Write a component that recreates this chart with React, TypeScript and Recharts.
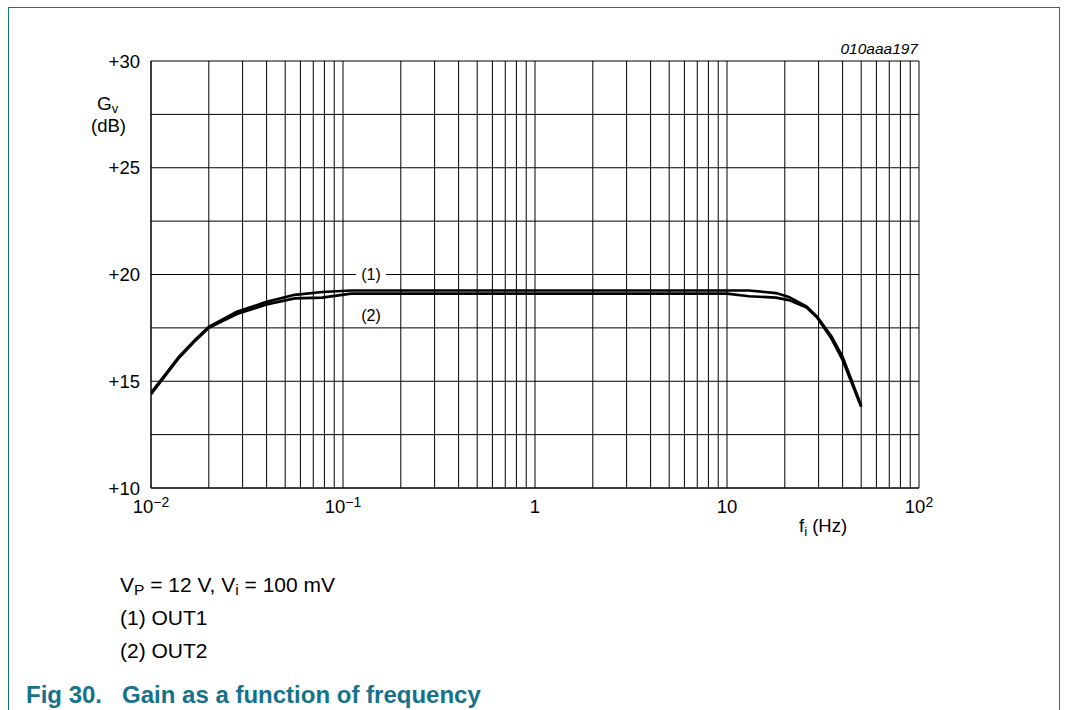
import React from 'react';
import { LineChart, Line, XAxis, YAxis, CartesianGrid, ReferenceDot } from 'recharts';

// ---- data ----
const freqHz = [0.01, 0.014, 0.017, 0.02, 0.028, 0.04, 0.056, 0.078, 0.11, 1, 10, 13, 18, 21, 26, 29.5, 35, 40, 50];
const gainOut1 = [14.45, 16.15, 16.95, 17.55, 18.25, 18.72, 19.05, 19.18, 19.25, 19.25, 19.25, 19.25, 19.13, 18.95, 18.5, 18.02, 17.1, 16.15, 13.85];
const gainOut2 = [14.4, 16.1, 16.9, 17.5, 18.15, 18.6, 18.88, 18.92, 19.1, 19.1, 19.1, 18.98, 18.92, 18.8, 18.45, 17.98, 17.0, 16.0, 13.8];

const xGridTicks = [
  0.01, 0.02, 0.03, 0.04, 0.05, 0.06, 0.07, 0.08, 0.09,
  0.1, 0.2, 0.3, 0.4, 0.5, 0.6, 0.7, 0.8, 0.9,
  1, 2, 3, 4, 5, 6, 7, 8, 9,
  10, 20, 30, 40, 50, 60, 70, 80, 90,
  100,
];
const yGridTicks = [10, 12.5, 15, 17.5, 20, 22.5, 25, 27.5, 30];
const xTickLabels = [
  { value: 0.01, base: '10', exp: '\u22122' },
  { value: 0.1, base: '10', exp: '\u22121' },
  { value: 1, base: '1', exp: '' },
  { value: 10, base: '10', exp: '' },
  { value: 100, base: '10', exp: '2' },
];
const yTickLabels = [10, 15, 20, 25, 30];
const curveLabels = [
  { text: '(1)', f: 0.14, gain: 20, boxed: true },
  { text: '(2)', f: 0.14, gain: 18.08, boxed: false },
];

const tableData = freqHz.map((f, i) => ({ f, out1: gainOut1[i], out2: gainOut2[i] }));

const FONT = '"Liberation Sans", Arial, Helvetica, sans-serif';
const TEAL = '#16728b';

const XTick = (props: any) => {
  const { x, y, payload } = props;
  const lab = xTickLabels.find(
    (l) => Math.abs(Math.log10(l.value) - Math.log10(payload.value)) < 1e-6
  );
  if (!lab) return <g />;
  return (
    <text x={x} y={y + 25} textAnchor="middle" fontSize={18.5} fill="#000" fontFamily={FONT}>
      {lab.base}
      {lab.exp ? (
        <tspan dy={-6} fontSize={14}>
          {lab.exp}
        </tspan>
      ) : null}
    </text>
  );
};

const YTick = (props: any) => {
  const { x, y, payload } = props;
  if (!yTickLabels.includes(payload.value)) return <g />;
  return (
    <text x={x - 11} y={y} dy="0.355em" textAnchor="end" fontSize={18.5} fill="#000" fontFamily={FONT}>
      {'+' + payload.value}
    </text>
  );
};

const makeCurveLabel = (text: string, boxed: boolean) => (props: any) => {
  const vb = props.viewBox || {};
  const cx = (vb.x ?? 0) + (vb.width ?? 0) / 2;
  const cy = (vb.y ?? 0) + (vb.height ?? 0) / 2;
  return (
    <g>
      {boxed ? <rect x={cx - 15} y={cy - 6} width={30} height={12} fill="#fff" /> : null}
      <text x={cx} y={cy} dy="0.35em" textAnchor="middle" fontSize={16} fill="#000" fontFamily={FONT}>
        {text}
      </text>
    </g>
  );
};

export default function App() {
  return (
    <div style={{ position: 'absolute', left: 0, top: 0, width: 1065, height: 710, overflow: 'hidden', background: '#fff' }}>
      <div
        style={{
          position: 'absolute',
          left: 8,
          top: 7,
          width: 1052,
          height: 760,
          borderTop: `1px solid ${TEAL}`,
          borderLeft: `1px solid ${TEAL}`,
          borderRight: `1px solid ${TEAL}`,
          boxSizing: 'border-box',
        }}
      />
      <div style={{ position: 'absolute', left: 0, top: 0 }}>
        <LineChart width={1065} height={710} data={tableData} margin={{ top: 61, right: 146, left: 91, bottom: 192 }}>
          <CartesianGrid stroke="#000" strokeWidth={1} />
          <XAxis
            dataKey="f"
            type="number"
            scale="log"
            domain={[0.01, 100]}
            allowDataOverflow
            ticks={xGridTicks}
            interval={0}
            tick={<XTick />}
            tickLine={false}
            tickSize={0}
            tickMargin={0}
            height={30}
            axisLine={{ stroke: '#000' }}
          />
          <YAxis
            type="number"
            domain={[10, 30]}
            allowDataOverflow
            ticks={yGridTicks}
            interval={0}
            tick={<YTick />}
            tickLine={false}
            tickSize={0}
            tickMargin={0}
            width={60}
            axisLine={{ stroke: '#000' }}
          />
          <Line type="linear" dataKey="out2" stroke="#000" strokeWidth={2.7} dot={false} isAnimationActive={false} />
          <Line type="linear" dataKey="out1" stroke="#000" strokeWidth={2.7} dot={false} isAnimationActive={false} />
          {curveLabels.map((c) => (
            <ReferenceDot
              key={c.text}
              x={c.f}
              y={c.gain}
              r={1}
              fill="none"
              stroke="none"
              label={makeCurveLabel(c.text, c.boxed)}
            />
          ))}
        </LineChart>
      </div>
      <svg
        width={1065}
        height={710}
        style={{ position: 'absolute', left: 0, top: 0, pointerEvents: 'none' }}
        fontFamily={FONT}
      >
        <text x={97} y={110} fontSize={19} fill="#000">
          G
          <tspan dy={3} fontSize={13}>v</tspan>
        </text>
        <text x={91} y={132} fontSize={18.5} fill="#000">(dB)</text>
        <text x={799} y={532} fontSize={18.5} fill="#000">
          f
          <tspan dy={4} fontSize={13}>i</tspan>
          <tspan dy={-4}> (Hz)</tspan>
        </text>
        <text x={918} y={54} fontSize={15.5} fontStyle="italic" textAnchor="end" fill="#000">010aaa197</text>
        <text x={120} y={591.5} fontSize={21} fill="#000">
          V
          <tspan dy={3} fontSize={15.5}>P</tspan>
          <tspan dy={-3}> = 12 V, V</tspan>
          <tspan dy={3} fontSize={15.5}>i</tspan>
          <tspan dy={-3}> = 100 mV</tspan>
        </text>
        <text x={120} y={624.5} fontSize={21} fill="#000">(1) OUT1</text>
        <text x={120} y={657.5} fontSize={21} fill="#000">(2) OUT2</text>
        <text x={26} y={703} fontSize={24} fontWeight="bold" fill={TEAL}>
          Fig 30.{'\u00a0\u00a0\u00a0'}Gain as a function of frequency
        </text>
      </svg>
    </div>
  );
}
